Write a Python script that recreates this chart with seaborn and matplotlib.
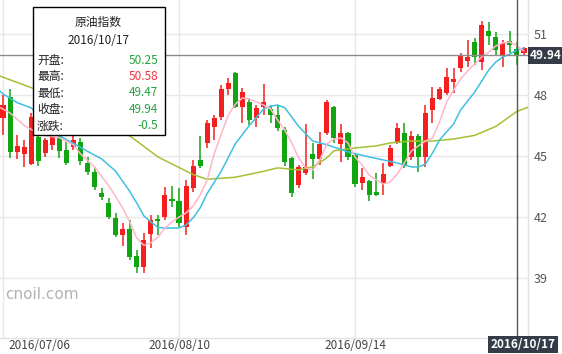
import pandas as pd
import numpy as np
import matplotlib.pyplot as plt
import matplotlib.patches as patches
import matplotlib.transforms as mtransforms
import seaborn as sns

# trading days shown on the chart
dates = pd.bdate_range(end="2016-10-18", periods=75)

opens = [46.87, 47.90, 45.19, 45.10, 44.60, 45.93, 45.14, 45.54, 45.93, 45.29,
         45.44, 45.68, 44.65, 44.20, 43.18, 42.68, 41.95, 41.11, 41.40, 40.08,
         39.54, 41.16, 41.90, 41.99, 42.88, 42.78, 41.50, 43.42, 44.80, 45.64,
         46.42, 46.91, 48.29, 49.08, 47.40, 47.65, 46.86, 47.40, 47.31, 47.00,
         46.27, 44.90, 43.57, 44.16, 45.10, 44.85, 46.13, 47.40, 45.59, 46.13,
         45.05, 43.67, 43.77, 43.23, 43.60, 44.50, 45.64, 46.13, 44.95, 45.98,
         44.95, 47.26, 47.80, 48.10, 48.64, 49.33, 49.67, 50.60, 49.62, 51.15,
         50.85, 49.97, 50.65, 50.25, 50.06]
highs = [48.00, 48.30, 46.03, 45.78, 47.10, 46.30, 45.90, 46.10, 46.03, 45.70,
         45.98, 45.90, 44.95, 44.45, 43.42, 42.93, 42.20, 41.70, 41.85, 40.37,
         41.20, 42.10, 42.10, 43.47, 43.52, 43.42, 43.80, 44.80, 45.98, 46.77,
         47.00, 48.49, 48.83, 49.13, 48.34, 47.85, 47.50, 48.54, 47.50, 47.50,
         46.42, 44.95, 44.55, 46.57, 45.64, 46.17, 47.75, 47.45, 46.57, 46.17,
         45.10, 44.40, 43.82, 44.16, 44.65, 45.54, 46.62, 46.62, 46.23, 46.08,
         47.50, 48.39, 48.39, 49.33, 49.33, 50.06, 50.70, 50.80, 51.64, 51.59,
         51.10, 50.70, 51.15, 50.58, 50.35]
lows = [46.03, 44.90, 44.85, 44.46, 44.55, 44.50, 44.95, 45.30, 44.90, 44.55,
        45.30, 44.55, 44.06, 43.32, 42.83, 41.90, 41.00, 40.57, 39.88, 39.24,
        39.24, 40.47, 41.10, 41.85, 42.49, 41.50, 41.11, 43.20, 44.40, 45.39,
        45.78, 46.77, 48.00, 47.36, 46.62, 46.52, 46.42, 47.00, 46.62, 46.22,
        44.50, 42.98, 43.42, 44.06, 43.86, 44.55, 46.03, 45.64, 44.70, 44.80,
        43.47, 43.32, 42.78, 43.03, 43.08, 44.45, 45.59, 44.40, 44.80, 44.21,
        44.46, 46.62, 47.75, 48.00, 48.10, 49.13, 49.37, 49.47, 49.23, 50.45,
        49.97, 49.37, 50.06, 49.47, 49.97]
closes = [47.50, 45.20, 45.49, 45.44, 46.91, 44.75, 45.78, 45.93, 45.24, 44.65,
          45.78, 44.75, 44.20, 43.47, 42.98, 42.00, 41.11, 41.40, 40.03, 39.54,
          40.86, 41.85, 41.80, 43.08, 42.78, 41.70, 43.52, 44.50, 44.50, 46.62,
          46.86, 48.29, 48.59, 47.40, 48.14, 46.77, 47.36, 47.65, 47.00, 46.37,
          44.70, 43.18, 44.45, 44.45, 44.85, 45.59, 47.65, 45.88, 46.13, 44.95,
          43.62, 43.96, 43.08, 43.08, 44.10, 45.39, 46.37, 44.50, 45.98, 44.95,
          47.11, 47.85, 48.29, 48.88, 48.78, 49.92, 49.87, 49.87, 51.44, 50.90,
          50.20, 50.55, 50.44, 49.94, 50.30]

# moving average lines (index of trading day, value)
ma5_idx = [-1, 0, 1, 3, 4, 6, 8, 9, 10, 11, 13, 15, 17, 18, 19, 20, 21, 22, 23,
           24, 25, 26, 27, 28, 29, 30, 31, 32, 33, 34, 35, 36, 37, 38, 39, 40,
           41, 42, 43, 44, 45, 46, 47, 48, 49, 50, 51, 52, 53, 54, 55, 56, 57,
           58, 59, 60, 61, 62, 63, 64, 65, 66, 67, 68, 69, 70, 71, 72, 73, 74]
ma5_val = [47.50, 47.30, 47.11, 46.50, 46.30, 46.00, 45.90, 45.70, 45.55, 45.10,
           44.45, 43.55, 42.44, 41.75, 40.96, 40.60, 40.72, 41.00, 41.45, 41.75,
           41.99, 42.19, 42.54, 43.08, 43.82, 45.10, 46.08, 47.01, 47.55, 47.85,
           47.80, 47.65, 47.50, 47.31, 46.77, 46.28, 45.64, 44.90, 44.41, 44.31,
           44.80, 45.59, 45.83, 45.88, 45.64, 44.95, 44.55, 44.06, 43.82, 43.62,
           43.72, 44.11, 44.65, 45.24, 45.49, 45.73, 45.88, 46.67, 47.65, 48.24,
           48.78, 49.18, 49.52, 49.87, 50.11, 50.41, 50.56, 50.60, 50.41, 50.16]

ma10_idx = [-1, 0, 2, 4, 8, 11, 14, 16, 18, 19, 20, 21, 22, 23, 25, 26, 27, 28,
            29, 31, 33, 35, 37, 38, 39, 40, 42, 44, 46, 49, 52, 56, 58, 59, 60,
            61, 62, 63, 64, 65, 67, 69, 70, 71, 72, 73, 74]
ma10_val = [48.35, 48.05, 47.62, 47.36, 46.00, 45.42, 44.85, 44.25, 43.25, 42.68,
            42.05, 41.75, 41.48, 41.45, 41.45, 41.60, 41.95, 42.44, 43.15, 44.25,
            45.60, 46.50, 47.30, 47.45, 47.50, 47.38, 46.45, 45.73, 45.55, 45.20,
            44.95, 44.65, 44.46, 44.45, 44.60, 45.14, 45.78, 46.18, 46.57, 47.26,
            48.14, 49.23, 49.62, 49.87, 50.01, 50.21, 50.31]

ma30_idx = [-1, 4, 18, 20, 22, 25, 27, 29, 33, 37, 39, 42, 44, 46, 47, 50, 53,
            55, 58, 61, 64, 67, 70, 73, 75]
ma30_val = [49.00, 48.36, 45.98, 45.47, 44.95, 44.43, 44.08, 43.85, 43.95, 44.24,
            44.41, 44.31, 44.46, 44.90, 45.25, 45.39, 45.49, 45.64, 45.73, 45.73,
            45.83, 46.01, 46.45, 47.19, 47.45]

tick_dates = ["2016-07-06", "2016-08-10", "2016-09-14"]
tick_labels = ["2016/07/06", "2016/08/10", "2016/09/14"]
price_ticks = [39, 42, 45, 48, 51]

tip_title = "原油指数"
tip_date = "2016/10/17"
tip_names = ["开盘:", "最高:", "最低:", "收盘:", "涨跌:"]
tip_values = ["50.25", "50.58", "49.47", "49.94", "-0.5"]
tip_up = [False, True, False, False, False]
sel_day = "2016-10-17"

RED = "#f42020"
GREEN = "#12a512"

df = pd.DataFrame({"date": dates, "open": opens, "high": highs,
                   "low": lows, "close": closes})
df["i"] = np.arange(len(df))
df["up"] = df["close"] >= df["open"]
df["color"] = np.where(df["up"], RED, GREEN)

sns.set_style("white")
plt.rcParams["font.family"] = ["Noto Sans CJK SC", "DejaVu Sans"]

fig = plt.figure(figsize=(5.62, 3.54), dpi=100)
ax = fig.add_axes([0, 16 / 354, 528 / 562, 338 / 354])

# candles
ax.vlines(df["i"], df["low"], df["high"], colors=df["color"], lw=1.1, zorder=2)
body = (df["close"] - df["open"]).abs().clip(lower=0.05)
ax.bar(df["i"], body, bottom=df[["open", "close"]].min(axis=1), width=0.72,
       color=df["color"], linewidth=0, zorder=3)

# moving averages
sns.lineplot(x=ma30_idx, y=ma30_val, ax=ax, color="#a2c234", lw=1.1, zorder=4)
sns.lineplot(x=ma10_idx, y=ma10_val, ax=ax, color="#3ec0e2", lw=1.1, zorder=4)
sns.lineplot(x=ma5_idx, y=ma5_val, ax=ax, color="#ffb6c8", lw=1.1, zorder=4)

ax.set_xlim(-0.43, 74.57)
ax.set_ylim(36.04, 52.67)

xt = [dates.get_loc(pd.Timestamp(d)) for d in tick_dates]
ax.set_xticks(xt)
ax.set_xticklabels(tick_labels, fontsize=8.5, color="#444444")
ax.set_yticks(price_ticks)
ax.set_yticklabels([str(v) for v in price_ticks], fontsize=9, color="#555555")
ax.yaxis.tick_right()
ax.tick_params(axis="both", length=0)
ax.tick_params(axis="x", pad=1)
ax.tick_params(axis="y", pad=4)
first = ax.get_xticklabels()[0]
first.set_horizontalalignment("left")
first.set_transform(first.get_transform() + mtransforms.ScaledTranslation(5 / 100, 0, fig.dpi_scale_trans))

ax.grid(True, color="#e8e8e8", lw=1)
ax.set_axisbelow(True)
for s in ["left", "top"]:
    ax.spines[s].set_visible(False)
for s in ["right", "bottom"]:
    ax.spines[s].set_color("#e2e2e2")
    ax.spines[s].set_linewidth(1)
ax.set_xlabel("")
ax.set_ylabel("")

# crosshair at the selected day
sel = dates.get_loc(pd.Timestamp(sel_day))
sel_close = closes[sel]
ax.axvline(sel, color="#555555", lw=1, zorder=6)
ax.axhline(sel_close, color="#8a8a8a", lw=1, zorder=6)

yblend = mtransforms.blended_transform_factory(ax.transAxes, ax.transData)
ax.text(1.0, sel_close, f"{sel_close:.2f}",
        transform=yblend + mtransforms.ScaledTranslation(2 / 100, 0, fig.dpi_scale_trans),
        ha="left", va="center", fontsize=8.5, fontweight="bold", color="white",
        clip_on=False, zorder=10,
        bbox=dict(boxstyle="square,pad=0.2", fc="#353c48", ec="none"))
xblend = mtransforms.blended_transform_factory(ax.transData, ax.transAxes)
ax.text(sel, 0, tip_date, transform=xblend + mtransforms.ScaledTranslation(6 / 100, 0, fig.dpi_scale_trans),
        ha="center", va="top", fontsize=8.5, fontweight="bold", color="white",
        clip_on=False, zorder=10,
        bbox=dict(boxstyle="square,pad=0.2", fc="#353c48", ec="none"))

# watermark
ax.text(5 / 528, 0.13, "cnoil.com", transform=ax.transAxes, fontsize=11,
        color="#b2b2b2", ha="left", va="center", family=["DejaVu Sans"])

# tooltip box
W, H = 562, 354
fig.patches.append(patches.Rectangle((33 / W, 1 - 135 / H), 132 / W, 128 / H,
                                     transform=fig.transFigure, fc="white",
                                     ec="black", lw=1, zorder=20))
fig.text(98 / W, 1 - 22 / H, tip_title, ha="center", va="center", fontsize=8.5,
         color="#222222", zorder=21)
fig.text(98 / W, 1 - 40 / H, tip_date, ha="center", va="center", fontsize=8.5,
         color="#222222", zorder=21)
for k, (name, val, up) in enumerate(zip(tip_names, tip_values, tip_up)):
    yy = 1 - (60 + 16.5 * k) / H
    fig.text(37 / W, yy, name, ha="left", va="center", fontsize=8.5,
             color="#222222", zorder=21)
    fig.text(158 / W, yy, val, ha="right", va="center", fontsize=8.5,
             color="#f5323c" if up else "#22a33a", zorder=21)

fig.savefig("out.png", dpi=100)
